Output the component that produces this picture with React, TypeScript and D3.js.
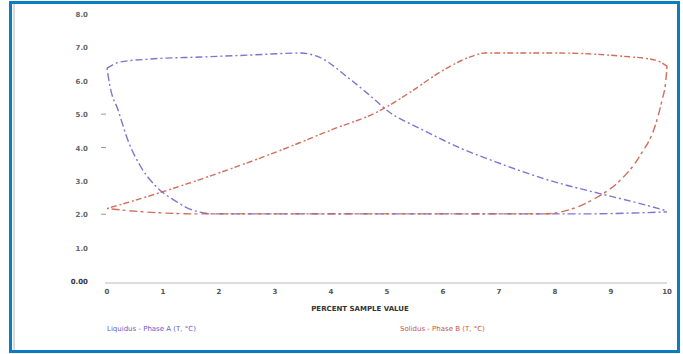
import React, { useEffect, useRef } from 'react';
import * as d3 from 'd3';

// x ticks and y ticks
const xTicks = [0, 1, 2, 3, 4, 5, 6, 7, 8, 9, 10];
const yTicks = [0, 1, 2, 3, 4, 5, 6, 7, 8];
const yTickLabels = ['0.00', '1.0', '2.0', '3.0', '4.0', '5.0', '6.0', '7.0', '8.0'];

// series A (blue): upper and lower branch
const blueUpperX = [0, 0.23, 0.77, 1.66, 2.55, 3.45, 3.8, 4.3, 4.7, 5.05, 5.59, 6.3, 7.02, 7.91, 8.8, 9.52, 10];
const blueUpperY = [6.38, 6.56, 6.65, 6.71, 6.77, 6.83, 6.7, 6.1, 5.55, 5.05, 4.57, 3.99, 3.52, 3.01, 2.62, 2.32, 2.1];
const blueLowerX = [0, 0.05, 0.2, 0.375, 0.59, 0.86, 1.21, 1.57, 1.93, 8.45, 10];
const blueLowerY = [6.38, 5.86, 5.11, 4.21, 3.46, 2.86, 2.41, 2.1, 2.01, 2.01, 2.07];

// series B (red): upper and lower branch
const redUpperX = [0, 0.95, 2.02, 3.09, 3.98, 4.88, 5.41, 5.95, 6.48, 6.75, 8.09, 9.16, 9.79, 10];
const redUpperY = [2.17, 2.65, 3.25, 3.91, 4.51, 5.11, 5.65, 6.26, 6.71, 6.83, 6.83, 6.74, 6.62, 6.44];
const redLowerX = [10, 9.98, 9.91, 9.79, 9.52, 9.16, 8.71, 8.18, 7.82, 1.66, 0.59, 0];
const redLowerY = [6.44, 6.02, 5.41, 4.66, 3.76, 3.01, 2.47, 2.1, 2.01, 2.01, 2.08, 2.17];

const xTitle = 'PERCENT SAMPLE VALUE';
const legendA = 'Liquidus - Phase A (T, °C)';
const legendB = 'Solidus - Phase B (T, °C)';

const BLUE = '#6a5acd';
const RED = '#c8553d';

export default function App() {
  const ref = useRef<SVGSVGElement>(null);

  useEffect(() => {
    const svg = d3.select(ref.current);
    svg.selectAll('*').remove();

    const x = d3.scaleLinear().domain([0, 10]).range([107, 667]);
    const y = d3.scaleLinear().domain([0, 8]).range([281, 14]);

    // frame
    svg.append('rect').attr('x', 0).attr('y', 0).attr('width', 683).attr('height', 354).attr('fill', '#fff');
    svg.append('rect')
      .attr('x', 10.5).attr('y', 2.5).attr('width', 668).attr('height', 349)
      .attr('fill', 'none').attr('stroke', '#0b7dc1').attr('stroke-width', 3);
    svg.append('line')
      .attr('x1', 14).attr('x2', 14).attr('y1', 4).attr('y2', 350)
      .attr('stroke', '#cfcfcf').attr('stroke-width', 1.5);

    // x axis
    const g = svg.append('g').attr('font-family', 'DejaVu Sans, sans-serif');
    g.append('line')
      .attr('x1', x(0) - 2).attr('x2', x(10)).attr('y1', y(0) + 2).attr('y2', y(0) + 2)
      .attr('stroke', '#bbb');
    g.selectAll('.xt').data(xTicks).enter().append('text')
      .attr('x', (d) => x(d)).attr('y', y(0) + 13)
      .attr('text-anchor', 'middle').attr('font-size', 7).attr('font-weight', 'bold')
      .attr('fill', '#555').text((d) => String(d));

    // y axis
    g.selectAll('.yt').data(yTicks).enter().append('text')
      .attr('x', 88).attr('y', (d) => y(d) + 3)
      .attr('text-anchor', 'end').attr('font-size', 7).attr('font-weight', 'bold')
      .attr('fill', (d) => (d === 0 ? '#333' : '#666')).text((d, i) => yTickLabels[i]);
    g.selectAll('.ytick').data([2, 4, 5]).enter().append('line')
      .attr('x1', 101).attr('x2', 106).attr('y1', (d) => y(d)).attr('y2', (d) => y(d))
      .attr('stroke', '#999');

    g.append('text')
      .attr('x', 360).attr('y', 311).attr('text-anchor', 'middle')
      .attr('font-size', 7).attr('font-weight', 'bold').attr('fill', '#333').text(xTitle);

    g.append('text').attr('x', 107).attr('y', 331).attr('font-size', 7)
      .attr('fill', BLUE).text(legendA);
    g.append('text').attr('x', 400).attr('y', 331).attr('font-size', 7)
      .attr('fill', RED).text(legendB);

    const line = d3.line<[number, number]>()
      .x((d) => x(d[0])).y((d) => y(d[1]))
      .curve(d3.curveMonotoneX);

    const zip = (a: number[], b: number[]) => a.map((v, i) => [v, b[i]] as [number, number]);

    const series = [
      { pts: zip(blueUpperX, blueUpperY), color: BLUE, dash: '7,3,2,3' },
      { pts: zip(blueLowerX, blueLowerY), color: BLUE, dash: '2,3,8,3' },
      { pts: zip(redUpperX, redUpperY), color: RED, dash: '2,2,6,3' },
      { pts: zip(redLowerX, redLowerY), color: RED, dash: '3,3,8,4' },
    ];
    series.forEach((s) => {
      svg.append('path')
        .attr('d', line(s.pts))
        .attr('fill', 'none').attr('stroke', s.color)
        .attr('stroke-width', 1.4).attr('stroke-dasharray', s.dash)
        .attr('opacity', 0.85);
    });
  }, []);

  return (
    <svg ref={ref} width={683} height={354} style={{ position: 'absolute', left: 0, top: 0 }} />
  );
}
